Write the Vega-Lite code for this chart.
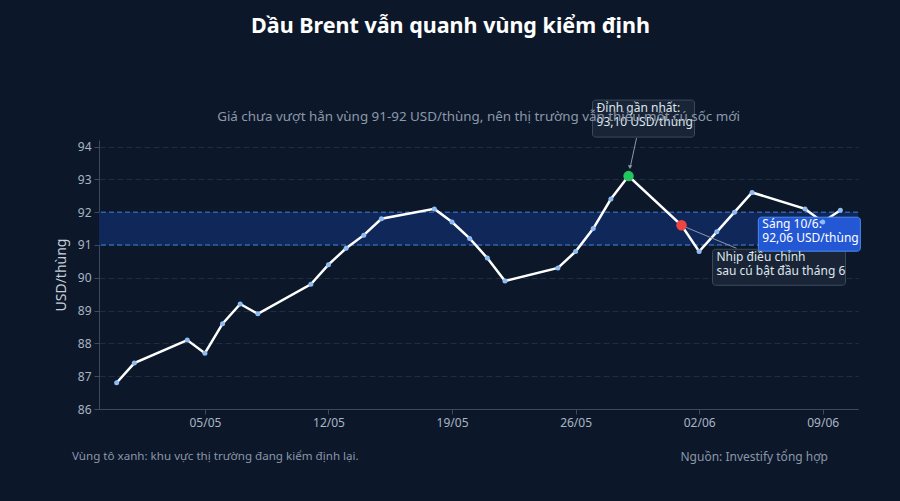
{
  "$schema": "https://vega.github.io/schema/vega-lite/v6.json",
  "autosize": {"type": "none"},
  "width": 759,
  "height": 269,
  "padding": {"left": 99, "top": 140, "right": 42, "bottom": 92},
  "background": "#0c182a",
  "config": {
    "view": {"stroke": null},
    "font": "Noto Sans",
    "axis": {
      "domainColor": "#3a4a60",
      "tickColor": "#3a4a60",
      "labelColor": "#aab4c3",
      "labelFontSize": 12,
      "labelFont": "Noto Sans",
      "titleFont": "Noto Sans",
      "tickSize": 5,
      "labelPadding": 3
    },
    "axisY": {
      "tickCount": 9,
      "grid": true,
      "gridColor": "#1f2d42",
      "gridDash": [6, 3],
      "titleColor": "#c5cdd8",
      "titleFontSize": 14,
      "titleFontWeight": "normal",
      "titlePadding": 9
    },
    "axisX": {"grid": false}
  },
  "title": {
    "text": "Dầu Brent vẫn quanh vùng kiểm định",
    "anchor": "middle",
    "frame": "group",
    "dx": -28,
    "offset": 62,
    "fontSize": 21.5,
    "fontWeight": "bold",
    "color": "#ffffff",
    "font": "Noto Sans"
  },
  "datasets": {
    "prices": [
      {"date": "2025-04-30T00:00:00", "price": 86.8},
      {"date": "2025-05-01T00:00:00", "price": 87.4},
      {"date": "2025-05-04T00:00:00", "price": 88.1},
      {"date": "2025-05-05T00:00:00", "price": 87.7},
      {"date": "2025-05-06T00:00:00", "price": 88.6},
      {"date": "2025-05-07T00:00:00", "price": 89.2},
      {"date": "2025-05-08T00:00:00", "price": 88.9},
      {"date": "2025-05-11T00:00:00", "price": 89.8},
      {"date": "2025-05-12T00:00:00", "price": 90.4},
      {"date": "2025-05-13T00:00:00", "price": 90.9},
      {"date": "2025-05-14T00:00:00", "price": 91.3},
      {"date": "2025-05-15T00:00:00", "price": 91.8},
      {"date": "2025-05-18T00:00:00", "price": 92.1},
      {"date": "2025-05-19T00:00:00", "price": 91.7},
      {"date": "2025-05-20T00:00:00", "price": 91.2},
      {"date": "2025-05-21T00:00:00", "price": 90.6},
      {"date": "2025-05-22T00:00:00", "price": 89.9},
      {"date": "2025-05-25T00:00:00", "price": 90.3},
      {"date": "2025-05-26T00:00:00", "price": 90.8},
      {"date": "2025-05-27T00:00:00", "price": 91.5},
      {"date": "2025-05-28T00:00:00", "price": 92.4},
      {"date": "2025-05-29T00:00:00", "price": 93.1},
      {"date": "2025-06-01T00:00:00", "price": 91.6},
      {"date": "2025-06-02T00:00:00", "price": 90.8},
      {"date": "2025-06-03T00:00:00", "price": 91.4},
      {"date": "2025-06-04T00:00:00", "price": 92.0},
      {"date": "2025-06-05T00:00:00", "price": 92.6},
      {"date": "2025-06-08T00:00:00", "price": 92.1},
      {"date": "2025-06-09T00:00:00", "price": 91.7},
      {"date": "2025-06-10T00:00:00", "price": 92.06}
    ],
    "notes": [
      {"key": "peak", "date": "2025-05-29T00:00:00", "price": 93.1, "text": "Đỉnh gần nhất:\n93,10 USD/thùng"},
      {"key": "dip", "date": "2025-06-01T00:00:00", "price": 91.6, "text": "Nhịp điều chỉnh\nsau cú bật đầu tháng 6"},
      {"key": "last", "date": "2025-06-10T00:00:00", "price": 92.06, "text": "Sáng 10/6:\n92,06 USD/thùng"}
    ]
  },
  "layer": [
    {
      "data": {"values": [{}]},
      "mark": {"type": "rect", "color": "#10275a"},
      "encoding": {
        "y": {
          "datum": 91,
          "type": "quantitative",
          "title": "USD/thùng",
          "scale": {"domain": [86, 94.2], "nice": false, "zero": false}
        },
        "y2": {"datum": 92}
      }
    },
    {
      "data": {"values": [{}]},
      "mark": {"type": "rule", "color": "#3f7fe0", "strokeDash": [5, 3], "strokeWidth": 1},
      "encoding": {"y": {"datum": 91, "type": "quantitative", "title": "USD/thùng"}}
    },
    {
      "data": {"values": [{}]},
      "mark": {"type": "rule", "color": "#3f7fe0", "strokeDash": [5, 3], "strokeWidth": 1},
      "encoding": {"y": {"datum": 92, "type": "quantitative", "title": "USD/thùng"}}
    },
    {
      "encoding": {
        "x": {
          "field": "date",
          "type": "temporal",
          "title": null,
          "scale": {
            "domain": [{"year": 2025, "month": 4, "date": 29}, {"year": 2025, "month": 6, "date": 11}],
            "nice": false
          },
          "axis": {
            "format": "%d/%m",
            "values": [
              {"year": 2025, "month": 5, "date": 5},
              {"year": 2025, "month": 5, "date": 12},
              {"year": 2025, "month": 5, "date": 19},
              {"year": 2025, "month": 5, "date": 26},
              {"year": 2025, "month": 6, "date": 2},
              {"year": 2025, "month": 6, "date": 9}
            ]
          }
        },
        "y": {"field": "price", "type": "quantitative", "title": "USD/thùng"}
      },
      "layer": [
        {
          "data": {"name": "prices"},
          "mark": {"type": "line", "color": "#ffffff", "strokeWidth": 2.5}
        },
        {
          "data": {"name": "notes"},
          "transform": [{"filter": "datum.key === 'peak'"}],
          "mark": {"type": "rule", "color": "#8c97a8", "strokeWidth": 1, "xOffset": 8, "yOffset": -38, "x2Offset": 1.5, "y2Offset": -8},
          "encoding": {"x2": {"field": "date"}, "y2": {"field": "price"}}
        },
        {
          "data": {"name": "notes"},
          "transform": [{"filter": "datum.key === 'peak'"}],
          "mark": {"type": "point", "shape": "triangle-down", "filled": true, "color": "#8c97a8", "size": 20, "opacity": 1, "xOffset": 1.5, "yOffset": -9}
        },
        {
          "data": {"name": "notes"},
          "transform": [{"filter": "datum.key === 'dip'"}],
          "mark": {"type": "rule", "color": "#8c97a8", "strokeWidth": 1, "xOffset": 2, "yOffset": 1, "x2Offset": 55, "y2Offset": 23},
          "encoding": {"x2": {"field": "date"}, "y2": {"field": "price"}}
        },
        {
          "data": {"name": "notes"},
          "transform": [{"filter": "datum.key === 'peak'"}],
          "mark": {"type": "rect", "fill": "#1b2738", "fillOpacity": 0.9, "stroke": "#3b4a5e", "strokeWidth": 1, "cornerRadius": 3, "xOffset": -36, "x2Offset": 66, "yOffset": -76, "y2Offset": -39},
          "encoding": {"x2": {"field": "date"}, "y2": {"field": "price"}}
        },
        {
          "data": {"name": "notes"},
          "transform": [{"filter": "datum.key === 'dip'"}],
          "mark": {"type": "rect", "fill": "#1b2738", "fillOpacity": 0.9, "stroke": "#3b4a5e", "strokeWidth": 1, "cornerRadius": 3, "xOffset": 31, "x2Offset": 164, "yOffset": 24, "y2Offset": 60},
          "encoding": {"x2": {"field": "date"}, "y2": {"field": "price"}}
        },
        {
          "data": {"name": "notes"},
          "transform": [{"filter": "datum.key === 'last'"}],
          "mark": {"type": "rect", "fill": "#2357d4", "stroke": "#4a8bf0", "strokeWidth": 1, "cornerRadius": 3, "xOffset": -82, "x2Offset": 20, "yOffset": 7, "y2Offset": 41},
          "encoding": {"x2": {"field": "date"}, "y2": {"field": "price"}}
        },
        {
          "data": {"name": "notes"},
          "transform": [{"filter": "datum.key === 'peak'"}],
          "mark": {"type": "text", "align": "left", "baseline": "top", "lineBreak": "\n", "lineHeight": 14, "fontSize": 12, "color": "#dfe5ee", "dx": -32, "dy": -73},
          "encoding": {"text": {"field": "text"}}
        },
        {
          "data": {"name": "notes"},
          "transform": [{"filter": "datum.key === 'dip'"}],
          "mark": {"type": "text", "align": "left", "baseline": "top", "lineBreak": "\n", "lineHeight": 14, "fontSize": 12, "color": "#dfe5ee", "dx": 35, "dy": 27},
          "encoding": {"text": {"field": "text"}}
        },
        {
          "data": {"name": "notes"},
          "transform": [{"filter": "datum.key === 'last'"}],
          "mark": {"type": "text", "align": "left", "baseline": "top", "lineBreak": "\n", "lineHeight": 14, "fontSize": 12, "color": "#ffffff", "dx": -78, "dy": 9},
          "encoding": {"text": {"field": "text"}}
        },
        {
          "data": {"name": "prices"},
          "mark": {"type": "circle", "color": "#8fbcf2", "size": 25, "opacity": 1}
        },
        {
          "data": {"name": "notes"},
          "transform": [{"filter": "datum.key !== 'last'"}],
          "mark": {"type": "circle", "size": 110, "opacity": 1},
          "encoding": {
            "color": {
              "field": "key",
              "type": "nominal",
              "scale": {"domain": ["peak", "dip"], "range": ["#22c55e", "#ef4444"]},
              "legend": null
            }
          }
        }
      ]
    },
    {
      "data": {"values": [{}]},
      "mark": {"type": "text", "align": "center", "baseline": "middle", "fontSize": 13.4, "color": "#8d98a9", "dy": -23},
      "encoding": {
        "x": {"datum": {"year": 2025, "month": 5, "date": 20, "hours": 12}, "type": "temporal", "title": null},
        "y": {"datum": 94.2, "type": "quantitative", "title": "USD/thùng"},
        "text": {"value": "Giá chưa vượt hẳn vùng 91-92 USD/thùng, nên thị trường vẫn thiếu một cú sốc mới"}
      }
    },
    {
      "data": {"values": [{}]},
      "mark": {"type": "text", "align": "left", "baseline": "middle", "fontSize": 11.6, "color": "#8a96a8", "dx": -27, "dy": 48},
      "encoding": {
        "x": {"datum": {"year": 2025, "month": 4, "date": 29}, "type": "temporal", "title": null},
        "y": {"datum": 86, "type": "quantitative", "title": "USD/thùng"},
        "text": {"value": "Vùng tô xanh: khu vực thị trường đang kiểm định lại."}
      }
    },
    {
      "data": {"values": [{}]},
      "mark": {"type": "text", "align": "right", "baseline": "middle", "fontSize": 12, "color": "#8a96a8", "dx": -30, "dy": 48},
      "encoding": {
        "x": {"datum": {"year": 2025, "month": 6, "date": 11}, "type": "temporal", "title": null},
        "y": {"datum": 86, "type": "quantitative", "title": "USD/thùng"},
        "text": {"value": "Nguồn: Investify tổng hợp"}
      }
    }
  ]
}
